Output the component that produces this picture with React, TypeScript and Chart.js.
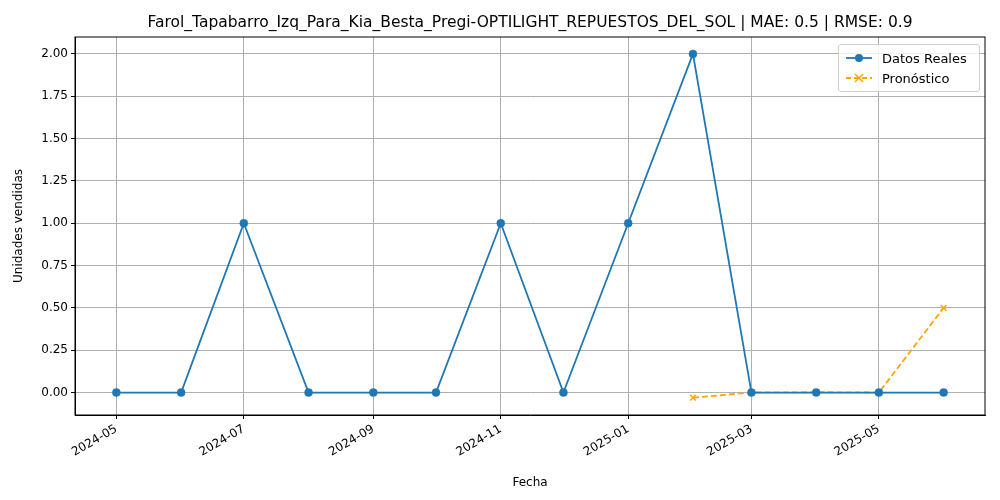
import { useEffect, useRef } from 'react'
import { Chart, registerables } from 'chart.js'

Chart.register(...registerables)

const DAY = 86400000
const day = (y: number, m: number) => Date.UTC(y, m - 1, 1) / DAY

const months: [number, number][] = [
  [2024, 5], [2024, 6], [2024, 7], [2024, 8], [2024, 9], [2024, 10], [2024, 11],
  [2024, 12], [2025, 1], [2025, 2], [2025, 3], [2025, 4], [2025, 5], [2025, 6],
]
const realValues = [0, 0, 1, 0, 0, 0, 1, 0, 1, 2, 0, 0, 0, 0]
const forecastMonths: [number, number][] = [[2025, 2], [2025, 3], [2025, 4], [2025, 5], [2025, 6]]
const forecastValues = [-0.03, 0, 0.002, 0, 0.5]
const tickMonths: [number, number][] = [
  [2024, 5], [2024, 7], [2024, 9], [2024, 11], [2025, 1], [2025, 3], [2025, 5],
]
const yTicks = [0, 0.25, 0.5, 0.75, 1, 1.25, 1.5, 1.75, 2]
const title = 'Farol_Tapabarro_Izq_Para_Kia_Besta_Pregi-OPTILIGHT_REPUESTOS_DEL_SOL | MAE: 0.5 | RMSE: 0.9'

const BLUE = '#1f77b4'
const ORANGE = '#ffa500'
const FONT = 'DejaVu Sans'

export default function App() {
  const canvasRef = useRef<HTMLCanvasElement>(null)
  const chartRef = useRef<Chart | null>(null)

  useEffect(() => {
    document.body.style.margin = '0'
    if (!canvasRef.current) return
    if (chartRef.current) chartRef.current.destroy()
    const ctx = canvasRef.current.getContext('2d')
    if (!ctx) return

    const first = day(...months[0])
    const last = day(...months[months.length - 1])
    const pad = (last - first) * 0.05

    chartRef.current = new Chart(ctx, {
      type: 'line',
      data: {
        datasets: [
          {
            label: 'Datos Reales',
            data: months.map((m, i) => ({ x: day(...m), y: realValues[i] })),
            borderColor: BLUE,
            backgroundColor: BLUE,
            borderWidth: 1.8,
            pointRadius: 4,
            pointBorderWidth: 0.5,
            pointStyle: 'circle',
            tension: 0,
          },
          {
            label: 'Pronóstico',
            data: forecastMonths.map((m, i) => ({ x: day(...m), y: forecastValues[i] })),
            borderColor: ORANGE,
            backgroundColor: ORANGE,
            borderWidth: 1.8,
            borderDash: [6, 3],
            pointRadius: 4,
            pointStyle: 'crossRot',
            pointBorderWidth: 1.5,
            tension: 0,
          },
        ],
      },
      options: {
        animation: false,
        responsive: false,
        layout: { padding: { top: 37, right: 15, left: 0, bottom: 0 } },
        plugins: { legend: { display: false }, tooltip: { enabled: false } },
        scales: {
          x: {
            type: 'linear',
            min: first - pad,
            max: last + pad,
            afterBuildTicks: (axis: any) => {
              axis.ticks = tickMonths.map(m => ({ value: day(...m) }))
            },
            afterFit: (axis: any) => { axis.height = 85 },
            ticks: {
              minRotation: 30,
              maxRotation: 30,
              color: '#000',
              font: { family: FONT, size: 12 },
              callback: (v: any) => {
                const d = new Date(Number(v) * DAY)
                return `${d.getUTCFullYear()}-${String(d.getUTCMonth() + 1).padStart(2, '0')}`
              },
            },
            grid: { color: '#b0b0b0', tickColor: '#000', tickLength: 4 },
            border: { color: '#000' },
            title: { display: true, text: 'Fecha', color: '#000', font: { family: FONT, size: 12 }, padding: { top: 0, bottom: 10 } },
          },
          y: {
            min: -0.1327,
            max: 2.1,
            afterBuildTicks: (axis: any) => {
              axis.ticks = yTicks.map(v => ({ value: v }))
            },
            afterFit: (axis: any) => { axis.width = 75 },
            ticks: {
              color: '#000',
              font: { family: FONT, size: 12 },
              callback: (v: any) => Number(v).toFixed(2),
            },
            grid: { color: '#b0b0b0', tickColor: '#000', tickLength: 4 },
            border: { color: '#000' },
            title: { display: true, text: 'Unidades vendidas', color: '#000', font: { family: FONT, size: 12 }, padding: { top: 12, bottom: 0 } },
          },
        },
      },
      plugins: [{
        id: 'frameTitle',
        afterDraw(chart: any) {
          const c = chart.ctx
          const a = chart.chartArea
          c.save()
          c.strokeStyle = '#000'
          c.lineWidth = 1
          c.strokeRect(a.left, a.top, a.right - a.left, a.bottom - a.top)
          c.fillStyle = '#000'
          c.font = `15.5px ${FONT}`
          c.textAlign = 'center'
          c.textBaseline = 'bottom'
          c.fillText(title, (a.left + a.right) / 2, a.top - 6)
          c.restore()
        },
      }],
    })

    return () => {
      if (chartRef.current) {
        chartRef.current.destroy()
        chartRef.current = null
      }
    }
  }, [])

  const item = (color: string, dashed: boolean, marker: 'o' | 'x', label: string) => (
    <div style={{ display: 'flex', alignItems: 'center', height: 20 }}>
      <svg width={30} height={12} style={{ marginRight: 8 }}>
        <line x1={2} y1={6} x2={28} y2={6} stroke={color} strokeWidth={1.8} strokeDasharray={dashed ? '5 3' : undefined} />
        {marker === 'o'
          ? <circle cx={15} cy={6} r={4} fill={color} />
          : <path d="M11 2 L19 10 M19 2 L11 10" stroke={color} strokeWidth={1.5} />}
      </svg>
      <span>{label}</span>
    </div>
  )

  return (
    <div style={{ position: 'relative', width: 1000, height: 500, background: '#fff' }}>
      <canvas ref={canvasRef} width={1000} height={500} />
      <div style={{
        position: 'absolute', left: 838, top: 44, width: 130, padding: '3px 5px',
        border: '1px solid #d0d0d0', borderRadius: 3, background: 'rgba(255,255,255,0.8)',
        fontFamily: FONT, fontSize: 13, color: '#000',
      }}>
        {item(BLUE, false, 'o', 'Datos Reales')}
        {item(ORANGE, true, 'x', 'Pronóstico')}
      </div>
    </div>
  )
}
